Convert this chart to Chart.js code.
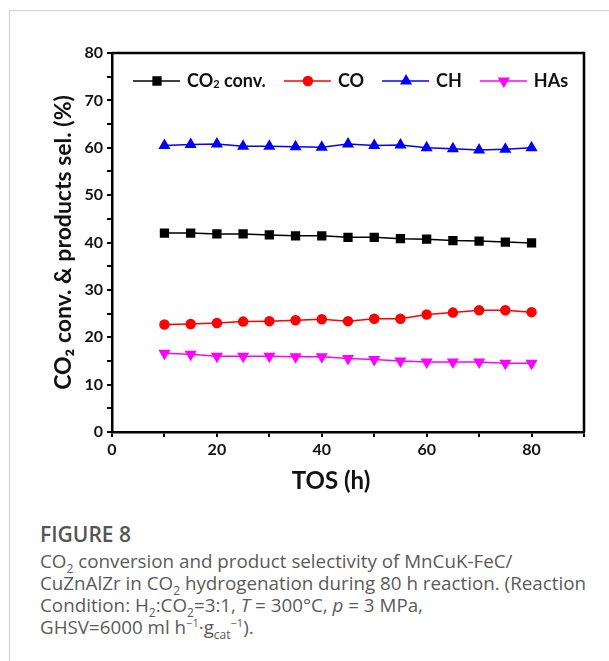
<!DOCTYPE html>
<html>
<head>
<meta charset="utf-8">
<script src="https://cdn.jsdelivr.net/npm/chart.js@4.4.1/dist/chart.umd.min.js"></script>
<style>
body{margin:0;background:#fff;}
#card{position:absolute;left:9px;top:10px;width:600px;height:651px;border-left:1px solid #cfcfcf;border-top:1px solid #cfcfcf;}
#chart{position:absolute;left:0;top:0;}
#cap{position:absolute;left:40px;top:521px;font-family:"Open Sans",sans-serif;color:#5a5a5a;font-size:18.8px;line-height:22px;white-space:nowrap;}
#cap .fig{font-weight:600;font-size:21px;line-height:26px;color:#555;margin-bottom:3px;}
#cap sub{font-size:12px;line-height:0;}
#cap sup{font-size:11px;line-height:0;}
</style>
</head>
<body>
<div id="card"></div>
<canvas id="chart" width="609" height="500"></canvas>
<div id="cap">
<div class="fig">FIGURE 8</div>
CO<sub>2</sub> conversion and product selectivity of MnCuK-FeC/<br>
CuZnAlZr in CO<sub>2</sub> hydrogenation during 80 h reaction. (Reaction<br>
Condition: H<sub>2</sub>:CO<sub>2</sub>=3:1, <i>T</i> = 300°C, <i>p</i> = 3 MPa,<br>
GHSV=6000 ml h<sup>−1</sup>·g<sub>cat</sub><sup>−1</sup>).
</div>
<script>

let tos = [10,15,20,25,30,35,40,45,50,55,60,65,70,75,80]
let conv = [42.0,42.0,41.8,41.8,41.6,41.4,41.4,41.1,41.1,40.8,40.7,40.4,40.3,40.1,39.9]
let co = [22.7,22.8,23.0,23.3,23.4,23.6,23.8,23.4,23.9,23.9,24.8,25.2,25.7,25.7,25.3]
let ch = [60.5,60.7,60.8,60.3,60.3,60.2,60.1,60.8,60.5,60.6,60.0,59.8,59.5,59.7,60.0]
let has = [16.6,16.4,16.0,16.0,16.0,15.9,15.9,15.5,15.3,15.0,14.8,14.8,14.8,14.5,14.5]

let names = ["CO|2| conv.","CO","CH","HAs"]
let colors = ["#000000","#ff0000","#0000ff","#ff00ff"]
let styles = ["rect","circle","triangle","triangle"]
let rots = [0,0,0,180]
let radii = [5.5,4.5,5.5,5.5]

function pts(arr){
return tos.map((t,i) => ({x:t, y:arr[i]}))
}

let series = [conv,co,ch,has]

let datasets = series.map((s,i) => ({
label: names[i].replace(/\|/g,""),
data: pts(s),
borderColor: colors[i],
backgroundColor: colors[i],
pointBackgroundColor: colors[i],
pointBorderColor: colors[i],
pointStyle: styles[i],
rotation: rots[i],
pointRadius: radii[i],
borderWidth: 1.5,
tension: 0
}))

/* box around plot, legend inside, x title */
let framePlugin = {
id: "frame",
afterDraw(chart){
let ctx = chart.ctx
let a = chart.chartArea
ctx.save()
ctx.strokeStyle = "#000"
ctx.lineWidth = 2.5
ctx.beginPath()
ctx.moveTo(a.left, a.top)
ctx.lineTo(a.right, a.top)
ctx.lineTo(a.right, a.bottom)
ctx.stroke()

let x = 133
let y = 81
ctx.textBaseline = "middle"
names.forEach((n,i) => {
ctx.strokeStyle = colors[i]
ctx.lineWidth = 1.5
ctx.beginPath()
ctx.moveTo(x, y)
ctx.lineTo(x + 47, y)
ctx.stroke()
ctx.fillStyle = colors[i]
Chart.helpers.drawPoint(ctx, {pointStyle: styles[i], rotation: rots[i], radius: radii[i], borderWidth: 1}, x + 24, y)
x += 54
ctx.fillStyle = "#111"
let parts = n.split("|")
parts.forEach((p,k) => {
if(k === 1){
ctx.font = "bold 11px Lato"
ctx.fillText(p, x, y + 3)
}else{
ctx.font = "bold 18px Lato"
ctx.fillText(p, x, y)
}
x += ctx.measureText(p).width
})
x += 18
})

ctx.fillStyle = "#111"
ctx.font = "bold 24px Lato"
ctx.textAlign = "center"
ctx.fillText("TOS (h)", 331, 481)
ctx.restore()
}
}

new Chart(document.getElementById("chart"), {
type: "line",
data: { datasets: datasets },
plugins: [framePlugin],
options: {
responsive: false,
animation: false,
layout: { padding: { left: 0, right: 25, top: 53, bottom: 0 } },
plugins: { legend: { display: false }, tooltip: { enabled: false } },
scales: {
x: {
type: "linear",
min: 0,
max: 90,
afterFit(s){ s.height = 68 },
ticks: {
stepSize: 10,
color: "#111",
padding: 3,
maxRotation: 0,
font: { family: "Lato", weight: "bold", size: 16 },
callback: v => (v % 20 === 0 && v <= 80) ? v : ""
},
grid: { drawOnChartArea: false, drawTicks: true, tickLength: 5, color: "#000", lineWidth: 2 },
border: { display: true, color: "#000", width: 2.5 }
},
y: {
min: 0,
max: 80,
afterFit(s){ s.width = 112 },
ticks: {
stepSize: 5,
color: "#111",
padding: 4,
font: { family: "Lato", weight: "bold", size: 16 },
callback: v => v % 10 === 0 ? v : ""
},
grid: { drawOnChartArea: false, drawTicks: true, tickLength: 5, color: "#000", lineWidth: 2 },
border: { display: true, color: "#000", width: 2.5 },
title: { display: true, text: "CO₂ conv. & products sel. (%)", color: "#111", padding: { top: 50, bottom: 0 }, font: { family: "Lato", weight: "bold", size: 23 } }
}
}
}
})

</script>
</body>
</html>
